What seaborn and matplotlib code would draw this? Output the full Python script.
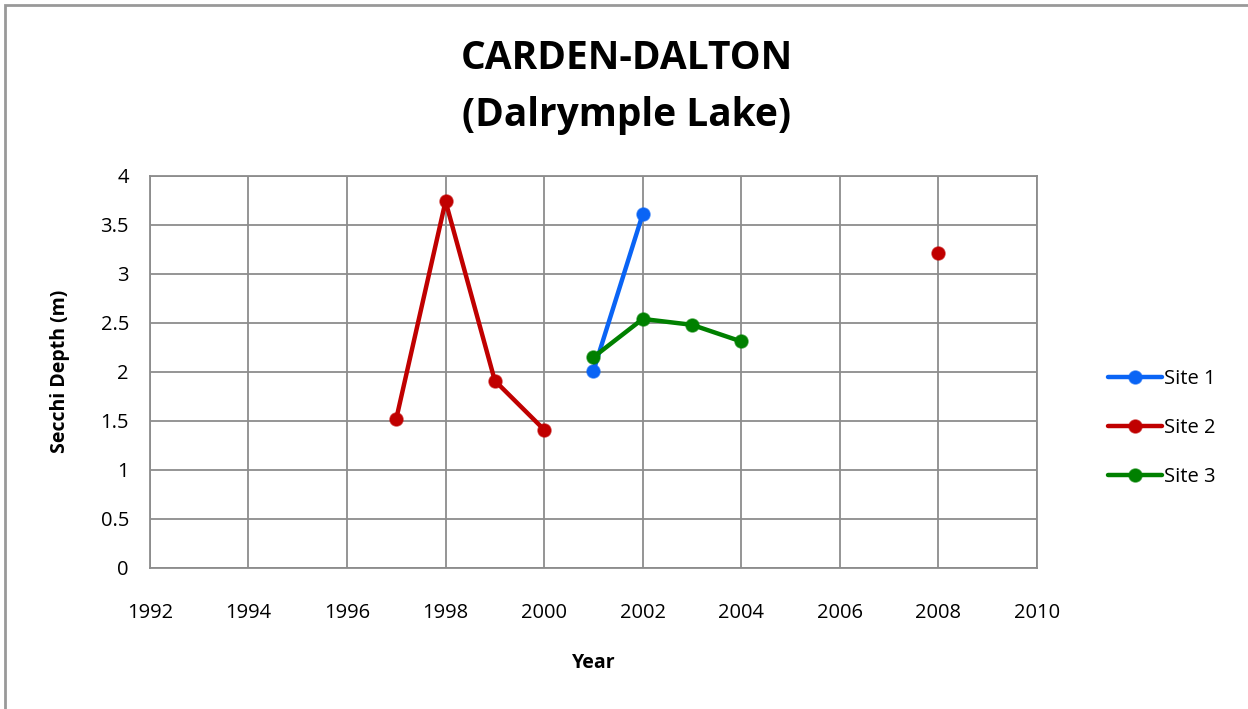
import numpy as np
import pandas as pd
import matplotlib
matplotlib.use("Agg")
import matplotlib.pyplot as plt
import seaborn as sns

site1_years = [2001, 2002]
site1_depth = [2.01, 3.61]
site2_years = [1997, 1998, 1999, 2000, 2008]
site2_depth = [1.52, 3.74, 1.91, 1.41, 3.21]
site2_segs = [0, 0, 0, 0, 1]   # gap between 2000 and 2008
site3_years = [2001, 2002, 2003, 2004]
site3_depth = [2.15, 2.54, 2.48, 2.31]

rows = []
for y, d in zip(site1_years, site1_depth):
    rows.append(("Site 1", "s1", y, d))
for y, d, s in zip(site2_years, site2_depth, site2_segs):
    rows.append(("Site 2", f"s2_{s}", y, d))
for y, d in zip(site3_years, site3_depth):
    rows.append(("Site 3", "s3", y, d))
df = pd.DataFrame(rows, columns=["site", "seg", "year", "depth"])

sns.set_style("white")
plt.rcParams['font.family'] = ['Open Sans', 'DejaVu Sans']
plt.rcParams['text.color'] = 'black'
plt.rcParams['axes.labelcolor'] = 'black'

colors = {"Site 1": "#0A64F5", "Site 2": "#C00000", "Site 3": "#008000"}

fig = plt.figure(figsize=(12.48, 7.09), dpi=100)
ax = fig.add_axes([0.120, 0.199, 0.711, 0.553])

sns.lineplot(data=df, x="year", y="depth", hue="site", units="seg", estimator=None,
             palette=colors, marker="o", markersize=9.5, linewidth=3.2,
             markeredgewidth=1, ax=ax)
for line in ax.lines:
    c = line.get_color()
    line.set_markeredgecolor(matplotlib.colors.to_rgba(c, 0.6))

ax.set_xlim(1992, 2010)
ax.set_ylim(0, 4)
ax.set_xticks(np.arange(1992, 2011, 2))
ax.set_yticks(np.arange(0, 4.01, 0.5))
ax.set_yticklabels(["0", "0.5", "1", "1.5", "2", "2.5", "3", "3.5", "4"])
ax.grid(True, color="#8c8c8c", linewidth=1.3)
for s in ax.spines.values():
    s.set_color("#8c8c8c")
    s.set_linewidth(1.3)
ax.tick_params(axis="both", labelsize=14.5, length=7, color="#8c8c8c", width=1.3,
               direction="out", labelcolor="black")
ax.tick_params(axis="x", pad=18)
ax.tick_params(axis="y", pad=8)
ax.set_xlabel("Year", fontsize=14, fontweight="bold", labelpad=22)
ax.set_ylabel("Secchi Depth (m)", fontsize=14, fontweight="bold", labelpad=22)

fig.text(0.502, 1 - 87 / 709, "CARDEN-DALTON\n(Dalrymple Lake)", fontsize=28,
         fontweight="bold", ha="center", va="center", linespacing=1.62)

handles, labels = ax.get_legend_handles_labels()
ax.get_legend().remove()
fig.legend(handles, labels, loc="center left", bbox_to_anchor=(1098 / 1248, 1 - 428 / 709),
           frameon=False, fontsize=14.5, handlelength=2.7, handletextpad=0.1,
           labelspacing=1.45, borderpad=0)

fig.patches.append(plt.Rectangle((0.004, -0.01), 1.1, 1.003, transform=fig.transFigure,
                                 fill=False, edgecolor="#999999", linewidth=2))

fig.savefig("out.png", dpi=100)
